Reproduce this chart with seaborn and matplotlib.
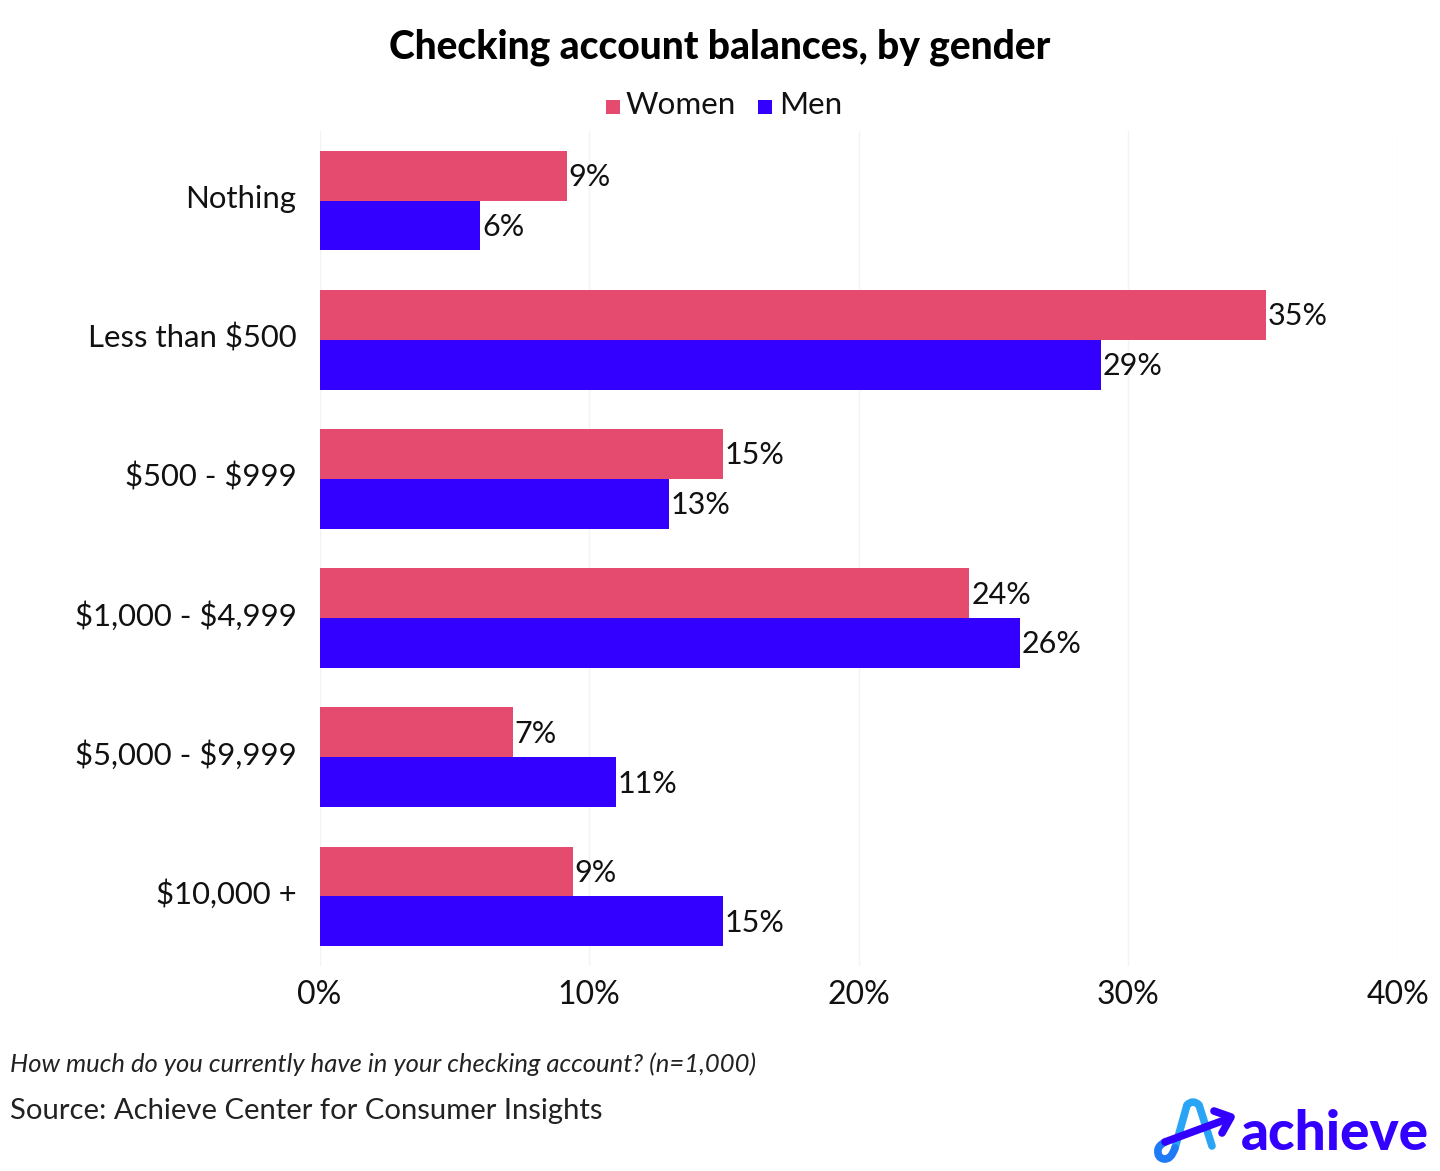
import matplotlib
matplotlib.use("Agg")
import matplotlib.pyplot as plt
import matplotlib.transforms as mtrans
import seaborn as sns
import pandas as pd
from matplotlib.patches import Rectangle, PathPatch
from matplotlib.path import Path

categories = ["Nothing", "Less than $500", "$500 - $999", "$1,000 - $4,999", "$5,000 - $9,999", "$10,000 +"]
women = [9.17, 35.1, 14.95, 24.1, 7.16, 9.39]
men = [5.97, 28.98, 12.95, 25.97, 10.98, 14.95]
women_labels = ["9%", "35%", "15%", "24%", "7%", "9%"]
men_labels = ["6%", "29%", "13%", "26%", "11%", "15%"]
x_ticks = [0, 10, 20, 30, 40]
x_tick_labels = ["0%", "10%", "20%", "30%", "40%"]

PINK = "#E54B6E"
BLUE = "#3300FF"
FONT = "Lato"

df = pd.DataFrame({
    "category": categories * 2,
    "gender": ["Women"] * len(categories) + ["Men"] * len(categories),
    "value": women + men,
})

sns.set_theme(style="white")
plt.rcParams["font.family"] = [FONT, "DejaVu Sans"]
plt.rcParams["text.parse_math"] = False

W, H = 1440, 1171
fig = plt.figure(figsize=(W / 100, H / 100), dpi=100, facecolor="white")
ax = fig.add_axes([319.5 / W, 1 - 966 / H, (1398 - 319.5) / W, (966 - 131) / H])

sns.barplot(data=df, y="category", x="value", hue="gender", order=categories,
            hue_order=["Women", "Men"], palette={"Women": PINK, "Men": BLUE},
            width=0.715, gap=0, saturation=1, dodge=True, legend=False,
            linewidth=0, ax=ax)

ax.set_xlim(0, 40)
ax.set_ylim(len(categories) - 0.5, -0.5)
ax.set_xlabel("")
ax.set_ylabel("")
ax.set_xticks(x_ticks, x_tick_labels)
ax.tick_params(axis="x", length=0, pad=10, labelsize=23, labelcolor="#111111")
ax.tick_params(axis="y", length=0, pad=16.5, labelsize=22.4, labelcolor="#111111")
shift = mtrans.ScaledTranslation(0, 4.5 / 100, fig.dpi_scale_trans)
for lab in ax.get_yticklabels():
    lab.set_transform(lab.get_transform() + shift)
ax.xaxis.grid(True, color="#F3F3F3", linewidth=1)
ax.yaxis.grid(False)
ax.set_axisbelow(True)
for s in ax.spines.values():
    s.set_visible(False)

for cont, labs in zip(ax.containers, [women_labels, men_labels]):
    for t in ax.bar_label(cont, labels=labs, padding=1.5, fontsize=22, color="#111111"):
        t.xyann = (1.5, -1.0)

fig.text(720 / W, 1 - 47 / H, "Checking account balances, by gender", ha="center", va="center",
         fontsize=28, fontweight="black", color="#000000")

# legend
fig.add_artist(Rectangle((606 / W, 1 - 114 / H), 14 / W, 14 / H, transform=fig.transFigure, color=PINK, lw=0))
fig.add_artist(Rectangle((758 / W, 1 - 114 / H), 14 / W, 14 / H, transform=fig.transFigure, color=BLUE, lw=0))
fig.text(626 / W, 1 - 105 / H, "Women", ha="left", va="center", fontsize=22.6, color="#111111")
fig.text(779 / W, 1 - 105 / H, "Men", ha="left", va="center", fontsize=22.6, color="#111111")

# footer
fig.text(10 / W, 1 - 1064 / H, "How much do you currently have in your checking account? (n=1,000)",
         ha="left", va="center", fontsize=18.45, fontstyle="italic", color="#222222")
fig.text(10 / W, 1 - 1111 / H, "Source: Achieve Center for Consumer Insights",
         ha="left", va="center", fontsize=21.1, color="#222222")

# logo
def stroke(verts, codes, color, lw):
    pts = [(x / W, 1 - y / H) for x, y in verts]
    fig.add_artist(PathPatch(Path(pts, codes), transform=fig.transFigure, fill=False,
                             edgecolor=color, lw=lw, capstyle="round", joinstyle="round"))

M, L, C = Path.MOVETO, Path.LINETO, Path.CURVE3
# light-blue A
stroke([(1212, 1146), (1199, 1105), (1193, 1099), (1187, 1105), (1175, 1148)],
       [M, L, C, C, L], "#2AA5F5", 5.5)
# loop
stroke([(1175, 1148), (1171, 1160), (1164, 1159), (1157, 1158), (1158, 1150), (1158, 1146), (1165, 1142)],
       [M, C, C, C, C, C, C], "#1E7BF5", 5.5)
# arrow
stroke([(1165, 1142), (1230, 1118)], [M, L], BLUE, 5.5)
stroke([(1214, 1111), (1231, 1117), (1222, 1133)], [M, L, L], BLUE, 5.5)
fig.text(1334.5 / W, 1 - 1134 / H, "achieve", ha="center", va="center", fontsize=39.5,
         fontweight="black", color=BLUE)

fig.savefig("out.png", dpi=100, facecolor="white")
